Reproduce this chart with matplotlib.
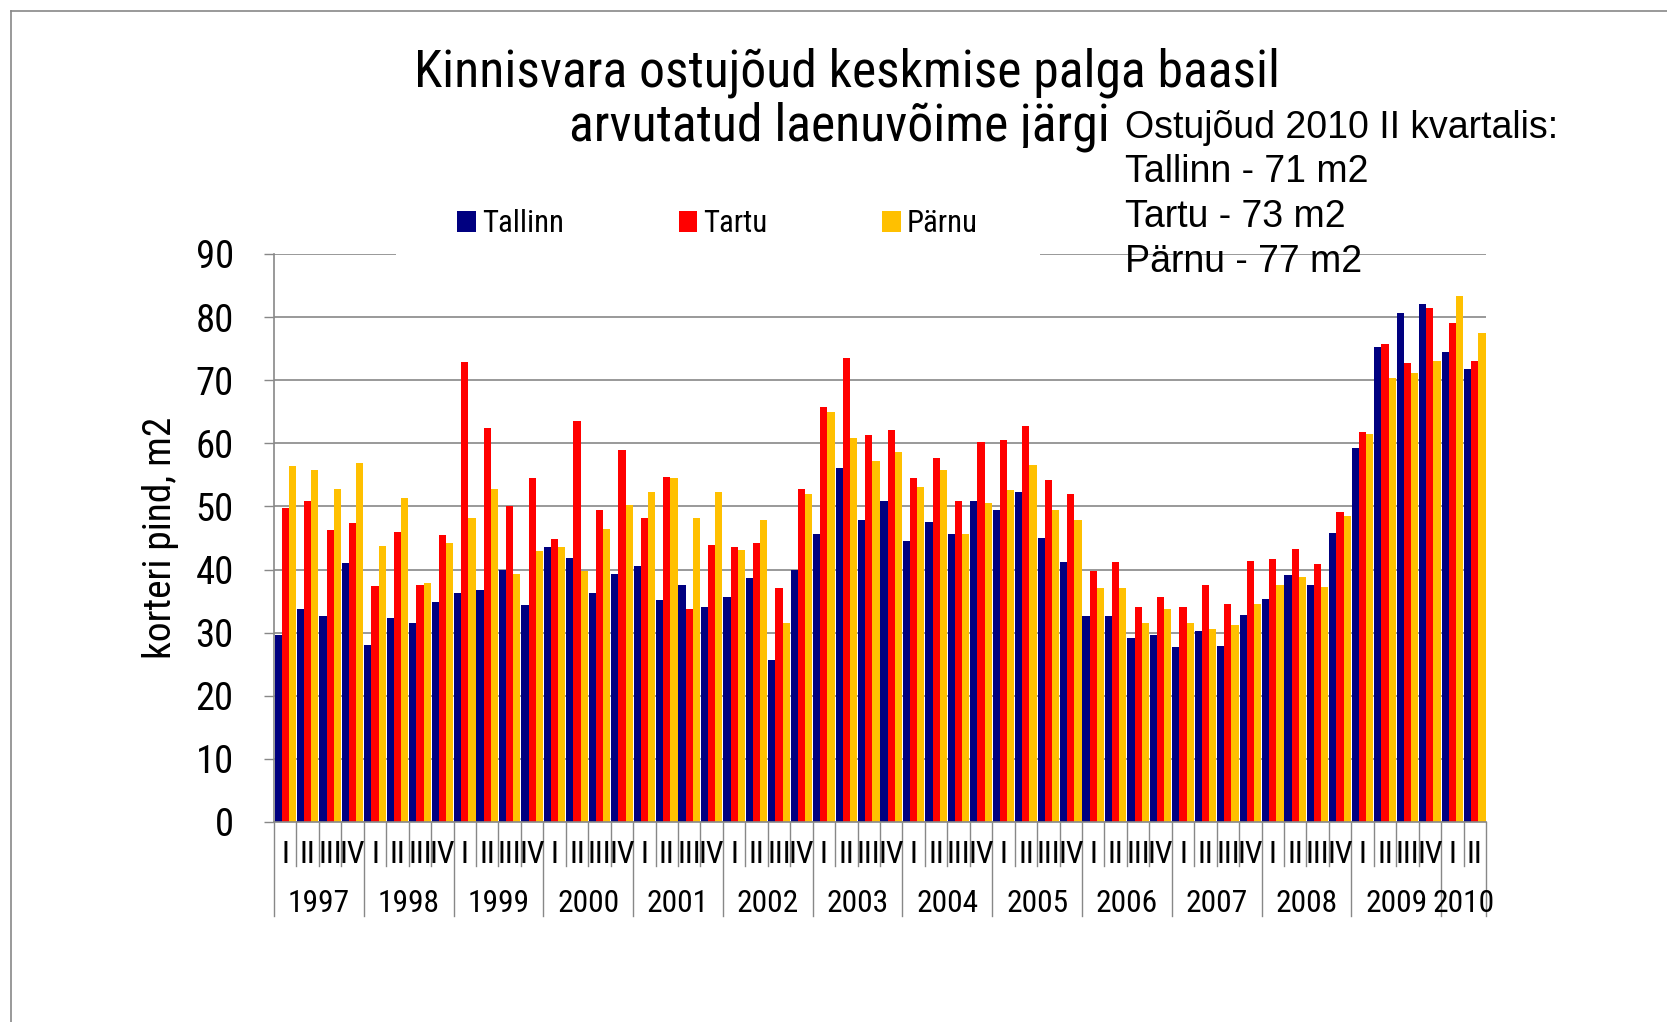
import matplotlib
matplotlib.use("Agg")
import matplotlib.pyplot as plt
import matplotlib.transforms as mtransforms
from matplotlib import font_manager as fm
import numpy as np

years = ["1997", "1998", "1999", "2000", "2001", "2002", "2003", "2004",
         "2005", "2006", "2007", "2008", "2009", "2010"]
quarters_per_year = [4] * 13 + [2]
quarter_names = ["I", "II", "III", "IV"]

tallinn = [29.7, 33.8, 32.7, 41.1,
           28.1, 32.4, 31.6, 34.9,
           36.3, 36.7, 40.0, 34.4,
           43.5, 41.9, 36.3, 39.3,
           40.5, 35.2, 37.6, 34.1,
           35.7, 38.7, 25.6, 40.0,
           45.6, 56.1, 47.9, 50.9,
           44.6, 47.5, 45.6, 50.9,
           49.5, 52.3, 45.0, 41.2,
           32.7, 32.7, 29.2, 29.7,
           27.8, 30.3, 27.9, 32.8,
           35.3, 39.1, 37.5, 45.8,
           59.2, 75.2, 80.7, 82.0,
           74.4, 71.7]
tartu = [49.8, 50.9, 46.3, 47.4,
         37.4, 46.0, 37.6, 45.4,
         72.9, 62.4, 50.1, 54.5,
         44.9, 63.6, 49.5, 58.9,
         48.2, 54.7, 33.7, 43.9,
         43.5, 44.2, 37.1, 52.8,
         65.7, 73.5, 61.3, 62.1,
         54.5, 57.7, 50.9, 60.2,
         60.5, 62.7, 54.2, 52.0,
         39.7, 41.2, 34.1, 35.6,
         34.1, 37.6, 34.5, 41.3,
         41.6, 43.2, 40.8, 49.1,
         61.8, 75.7, 72.7, 81.5,
         79.0, 73.0]
parnu = [56.4, 55.8, 52.8, 56.9,
         43.8, 51.4, 37.9, 44.2,
         48.2, 52.8, 39.3, 43.0,
         43.5, 39.7, 46.5, 50.3,
         52.3, 54.5, 48.2, 52.3,
         43.1, 47.9, 31.6, 52.0,
         65.0, 60.8, 57.2, 58.7,
         53.1, 55.8, 45.6, 50.5,
         52.6, 56.6, 49.5, 47.9,
         37.1, 37.1, 31.6, 33.7,
         31.6, 30.5, 31.2, 34.5,
         37.5, 38.8, 37.2, 48.5,
         61.5, 70.4, 71.1, 73.0,
         83.4, 77.4]
series_names = ["Tallinn", "Tartu", "Pärnu"]
series_colors = ["#000080", "#FF0000", "#FFC000"]
yticks = [0, 10, 20, 30, 40, 50, 60, 70, 80, 90]

title1 = "Kinnisvara ostujõud keskmise palga baasil"
title2 = "arvutatud laenuvõime järgi"
note_lines = ["Ostujõud 2010 II kvartalis:", "Tallinn - 71 m2",
              "Tartu - 73 m2", "Pärnu - 77 m2"]
ylabel = "korteri pind, m2"

GRID = "#888888"


def _wt(w):
    try:
        return int(w)
    except (TypeError, ValueError):
        return 400 if str(w) in ("normal", "regular", "book") else 700


def pick_narrow_path():
    best = None
    for f in fm.fontManager.ttflist:
        if f.style != "normal" or _wt(f.weight) != 400:
            continue
        nm = f.name
        st = str(f.stretch)
        score = None
        if nm == "Liberation Sans Narrow":
            score = 0
        elif nm == "Roboto Condensed":
            score = 1
        elif nm in ("Noto Sans", "Open Sans", "Roboto") and st in ("condensed", "semi-condensed", "75", "87.5"):
            score = 2 if st in ("condensed", "75") else 3
        elif nm in ("Noto Sans Condensed", "Open Sans Condensed"):
            score = 2
        elif nm == "DejaVu Sans" and st in ("condensed", "semi-condensed"):
            score = 4
        if score is not None and (best is None or score < best[0]):
            best = (score, f.fname)
    return best[1] if best else None


NARROW_PATH = pick_narrow_path()


def nfp(size):
    if NARROW_PATH:
        return fm.FontProperties(fname=NARROW_PATH, size=size)
    return fm.FontProperties(family="DejaVu Sans", size=size)


ARIAL = ["Liberation Sans", "DejaVu Sans"]

fig = plt.figure(figsize=(16.67, 10.22), dpi=100)

# scale narrow-font sizes so the title matches its width in the chart
renderer = fig.canvas.get_renderer()
probe = fig.text(0, 0, title1, fontproperties=nfp(36))
tw = probe.get_window_extent(renderer).width
probe.remove()
r = float(np.clip(866.0 / tw, 0.6, 1.25))

ax = fig.add_axes([0.1644, 0.1957, 0.7270, 0.5558])

n = len(tallinn)
x = np.arange(n)
w = 0.32
data = [tallinn, tartu, parnu]
handles = []
for k in range(3):
    b = ax.bar(x + (k - 1) * w, data[k], width=w, color=series_colors[k],
               label=series_names[k], zorder=2, linewidth=0)
    handles.append(b)

ax.set_xlim(-0.5, n - 0.5)
ax.set_ylim(0, 90)
ax.set_yticks(yticks)
ax.set_yticklabels([str(v) for v in yticks])
for lbl in ax.get_yticklabels():
    lbl.set_fontproperties(nfp(27 * r))
ax.yaxis.grid(True, color=GRID, linewidth=1.2, zorder=0)
ax.set_axisbelow(True)
ax.tick_params(axis="y", direction="out", length=7, width=1, color=GRID, pad=22)
for s in ["top", "right"]:
    ax.spines[s].set_visible(False)
ax.spines["left"].set_color(GRID)
ax.spines["bottom"].set_color(GRID)
ax.spines["left"].set_linewidth(1.2)
ax.spines["bottom"].set_linewidth(1.2)

ax.set_xticks([])
ax.set_ylabel(ylabel, fontproperties=nfp(27.5 * r), labelpad=12)

# category axis: quarters and years
trans = mtransforms.blended_transform_factory(ax.transData, ax.transAxes)
q_short = -0.078
y_long = -0.166
idx = 0
for yi, (yr, nq) in enumerate(zip(years, quarters_per_year)):
    start = idx
    for q in range(nq):
        ax.text(idx, -0.057, quarter_names[q], transform=trans, ha="center",
                va="center", fontproperties=nfp(22 * r))
        if q > 0:
            ax.plot([idx - 0.5, idx - 0.5], [0, q_short], transform=trans,
                    color=GRID, lw=1.0, clip_on=False)
        idx += 1
    ax.plot([start - 0.5, start - 0.5], [0, y_long], transform=trans,
            color=GRID, lw=1.0, clip_on=False)
    ax.text((start + idx - 1) / 2.0, -0.144, yr, transform=trans, ha="center",
            va="center", fontproperties=nfp(22 * r))
ax.plot([idx - 0.5, idx - 0.5], [0, y_long], transform=trans,
        color=GRID, lw=1.0, clip_on=False)

# titles and note
fig.text(0.508, 0.929, title1, ha="center", va="center",
         fontproperties=nfp(36 * r))
fig.text(0.666, 0.876, title2, ha="right", va="center",
         fontproperties=nfp(36 * r))
note_y = [0.875, 0.8316, 0.788, 0.744]
for t, yy in zip(note_lines, note_y):
    fig.text(0.675, yy, t, ha="left", va="center", fontfamily=ARIAL,
             fontsize=27, zorder=6)

leg = fig.legend(handles=handles, labels=series_names, loc="center",
                 bbox_to_anchor=(0.4305, 0.781), ncol=3, frameon=True,
                 facecolor="white", edgecolor="none", framealpha=1.0,
                 prop=nfp(21.5 * r), handlelength=0.6,
                 handleheight=0.7, handletextpad=0.2, columnspacing=3.72,
                 borderpad=2.0)

# outer chart border
fig.add_artist(plt.Line2D([11 / 1667, 1.0], [1 - 11 / 1022, 1 - 11 / 1022],
                          transform=fig.transFigure, color=GRID, lw=1.2))
fig.add_artist(plt.Line2D([11 / 1667, 11 / 1667], [0.0, 1 - 11 / 1022],
                          transform=fig.transFigure, color=GRID, lw=1.2))

fig.savefig("out.png", dpi=100, facecolor="white")
